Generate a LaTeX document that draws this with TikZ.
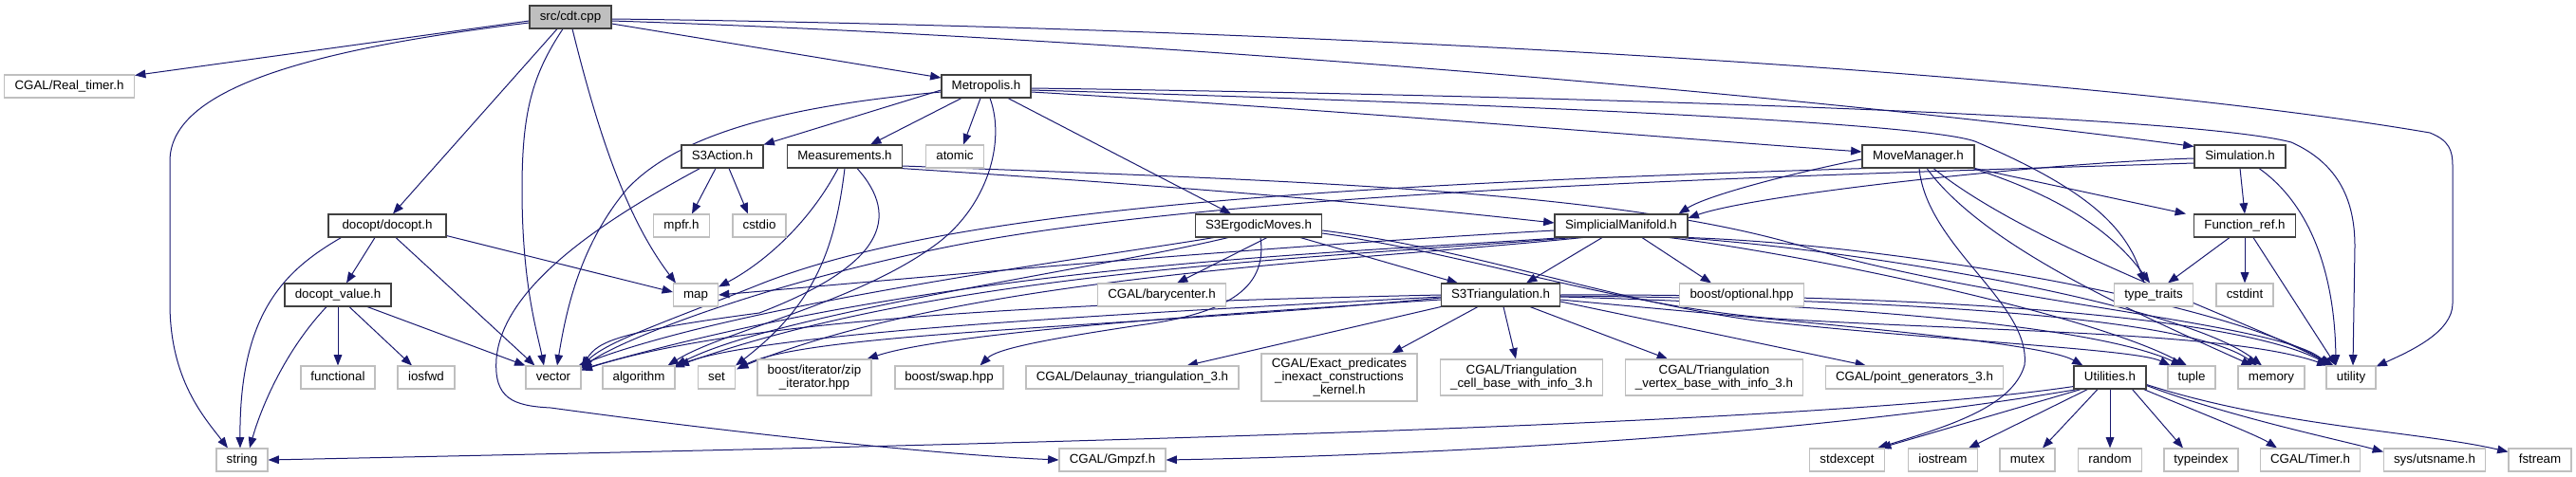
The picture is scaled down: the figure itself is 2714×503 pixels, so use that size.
\documentclass[tikz,border=0pt]{standalone}
\usepackage{fontspec}
\setmainfont{Liberation Sans}
\usetikzlibrary{arrows.meta,calc}
\definecolor{edgeblue}{HTML}{191970}
\definecolor{docborder}{HTML}{404040}
\definecolor{extborder}{HTML}{BFBFBF}
\newcommand{\fsz}{\fontsize{10pt}{10.6pt}\selectfont}
\pgfdeclarelayer{edgelayer}
\pgfsetlayers{edgelayer,main}
\tikzset{
  base/.style={fill=white, line width=0.8pt, font=\fsz, inner xsep=0pt, inner ysep=0pt, anchor=center},
  one/.style={text height=7.4pt, text depth=2.2pt, minimum height=18pt},
  doc/.style={base, one, draw=docborder},
  ext/.style={base, one, draw=extborder},
  extm/.style={base, draw=extborder, align=center},
  mw/.style={minimum width=#1*0.75pt},
  mh/.style={minimum height=#1*0.75pt},
  e/.style={draw=edgeblue, line width=0.75pt, -{Triangle[length=8.5pt,width=6.5pt]}},
}
\begin{document}
\begin{tikzpicture}[x=0.75pt, y=-0.75pt]
\useasboundingbox (0,0) rectangle (2714,503);
% row 0
\node[doc, fill=black!25, mw=86] (cdt) at (601,18) {src/cdt.cpp};
% row 1
\node[ext, mw=137] (realtimer) at (73,91) {CGAL/Real\_timer.h};
\node[doc, mw=94] (metro) at (1039,91) {Metropolis.h};
% row 2
\node[doc, mw=86] (s3action) at (761,165) {S3Action.h};
\node[doc, mw=121] (meas) at (890,165) {Measurements.h};
\node[ext, mw=61] (atomic) at (1006,165) {atomic};
\node[doc, mw=118] (moveman) at (2021,165) {MoveManager.h};
\node[doc, mw=96] (sim) at (2360,165) {Simulation.h};
% row 3
\node[doc, mw=124] (docopt) at (408,238) {docopt/docopt.h};
\node[ext, mw=59] (mpfr) at (718,238) {mpfr.h};
\node[ext, mw=56] (cstdio) at (800,238) {cstdio};
\node[doc, mw=133] (s3erg) at (1326,238) {S3ErgodicMoves.h};
\node[doc, mw=140] (simpman) at (1708,238) {SimplicialManifold.h};
\node[doc, mw=107] (funcref) at (2365,238) {Function\_ref.h};
% row 4
\node[ext, mw=47] (map) at (733,311) {map};
\node[doc, mw=112] (docval) at (356,311) {docopt\_value.h};
\node[ext, mw=135] (bary) at (1224,311) {CGAL/barycenter.h};
\node[doc, mw=125] (s3tri) at (1581,311) {S3Triangulation.h};
\node[ext, mw=131] (optional) at (1835,311) {boost/optional.hpp};
\node[ext, mw=83] (typetraits) at (2269,311) {type\_traits};
\node[ext, mw=60] (cstdint) at (2365,311) {cstdint};
% row 5
\node[ext, mw=78] (functional) at (356,398) {functional};
\node[ext, mw=60] (iosfwd) at (449,398) {iosfwd};
\node[ext, mw=58] (vector) at (583,398) {vector};
\node[ext, mw=76] (algorithm) at (673,398) {algorithm};
\node[ext, mw=39] (set) at (755,398) {set};
\node[extm, mw=120, mh=38] (zip) at (858,398) {boost/iterator/zip\\\_iterator.hpp};
\node[ext, mw=114] (swap) at (1000,398) {boost/swap.hpp};
\node[ext, mw=224] (delaunay) at (1193,398) {CGAL/Delaunay\_triangulation\_3.h};
\node[extm, mw=164, mh=50] (exact) at (1411,398) {CGAL/Exact\_predicates\\\_inexact\_constructions\\\_kernel.h};
\node[extm, mw=171, mh=38] (cellbase) at (1603,398) {CGAL/Triangulation\\\_cell\_base\_with\_info\_3.h};
\node[extm, mw=187, mh=38] (vertbase) at (1806,398) {CGAL/Triangulation\\\_vertex\_base\_with\_info\_3.h};
\node[ext, mw=187] (pointgen) at (2017,398) {CGAL/point\_generators\_3.h};
\node[doc, mw=76] (utilities) at (2223,398) {Utilities.h};
\node[ext, mw=50] (tuple) at (2309,398) {tuple};
\node[ext, mw=70] (memory) at (2393,398) {memory};
\node[ext, mw=52] (utility) at (2477,398) {utility};
% row 6
\node[ext, mw=54] (string) at (255,485) {string};
\node[ext, mw=112] (gmpzf) at (1172,485) {CGAL/Gmpzf.h};
\node[ext, mw=79] (stdexcept) at (1946,485) {stdexcept};
\node[ext, mw=73] (iostream) at (2047,485) {iostream};
\node[ext, mw=58] (mutex) at (2136,485) {mutex};
\node[ext, mw=67] (random) at (2223,485) {random};
\node[ext, mw=78] (typeindex) at (2319,485) {typeindex};
\node[ext, mw=105] (timer) at (2434,485) {CGAL/Timer.h};
\node[ext, mw=107] (utsname) at (2565,485) {sys/utsname.h};
\node[ext, mw=66] (fstream) at (2676,485) {fstream};

\begin{pgfonlayer}{edgelayer}
% ---- edges from cdt.cpp
\draw[e] ($(cdt.west)+(0,4)$) -- ($(realtimer.north east)+(0,1)$);
\draw[e] ($(cdt.west)+(0,6)$) .. controls (300,55) and (179,100) .. (179,170) -- (179,320) .. controls (179,400) and (215,440) .. ($(string.north)+(-15,0)$);
\draw[e] ($(cdt.south)+(-14,0)$) -- ($(docopt.north)+(6,0)$);
\draw[e] ($(cdt.south)+(-8,0)$) .. controls (560,80) and (550,120) .. (550,200) .. controls (550,300) and (566,350) .. ($(vector.north)+(-10,0)$);
\draw[e] ($(cdt.south)+(2,0)$) .. controls (630,140) and (660,230) .. ($(map.north west)+(3,0)$);
\draw[e] ($(cdt.east)+(0,7)$) -- ($(metro.west)+(0,-9)$);
\draw[e] ($(cdt.east)+(0,4)$) .. controls (1200,40) and (1900,100) .. ($(sim.north west)+(0,2)$);
\draw[e] ($(cdt.east)+(0,2)$) .. controls (1300,28) and (2150,70) .. (2560,140) .. controls (2580,148) and (2584,158) .. (2584,175) -- (2584,320) .. controls (2584,350) and (2540,370) .. ($(utility.north east)+(0,1)$);

% ---- Metropolis
\draw[e] ($(metro.west)+(0,4)$) -- ($(s3action.north east)+(0,0)$);
\draw[e] ($(metro.south)+(-26,0)$) -- ($(meas.north east)+(-34,0)$);
\draw[e] ($(metro.south)+(-6,0)$) -- ($(atomic.north)+(9,0)$);
\draw[e] ($(metro.south)+(23,0)$) -- ($(s3erg.north)+(-29,0)$);
\draw[e] ($(metro.west)+(0,6)$) .. controls (850,110) and (720,135) .. (660,200) .. controls (610,260) and (596,330) .. ($(vector.north)+(4,0)$);
\draw[e] ($(metro.east)+(0,6)$) .. controls (1400,115) and (1750,145) .. ($(moveman.west)+(0,-5)$);
\draw[e] ($(metro.east)+(0,2)$) .. controls (1600,100) and (2300,120) .. (2414,150) .. controls (2470,175) and (2481,220) .. (2481,260) -- ($(utility.north)+(2,0)$);
\draw[e] ($(metro.east)+(0,4)$) .. controls (1600,110) and (2040,130) .. (2083,150) .. controls (2200,200) and (2240,240) .. ($(typetraits.north)+(-10,0)$);
\draw[e] ($(metro.south)+(4,0)$) .. controls (1060,150) and (1040,220) .. (983,260) .. controls (900,320) and (760,350) .. ($(algorithm.north east)+(-8,0)$);

% ---- S3Action
\draw[e] ($(s3action.south)+(-7,0)$) -- ($(mpfr.north)+(11,0)$);
\draw[e] ($(s3action.south)+(7,0)$) -- ($(cstdio.north)+(-12,0)$);
\draw[e] ($(s3action.south west)+(20,0)$) .. controls (640,230) and (530,300) .. (523,378) .. controls (520,420) and (540,428) .. (580,430) .. controls (800,460) and (1000,480) .. (gmpzf.west);

% ---- Measurements
\draw[e] ($(meas.south)+(-7,0)$) .. controls (850,240) and (800,280) .. ($(map.north east)+(0,4)$);
\draw[e] ($(meas.south)+(0,0)$) .. controls (880,260) and (860,320) .. ($(set.north east)+(0,0)$);
\draw[e] ($(meas.south east)+(-2,0)$) .. controls (1300,200) and (1500,220) .. ($(simpman.west)+(0,-3)$);
\draw[e] ($(meas.east)+(0,10)$) .. controls (1350,190) and (1700,200) .. (1900,260) .. controls (2100,320) and (2400,340) .. ($(utility.north west)+(4,0)$);
\draw[e] ($(meas.south)+(13,0)$) .. controls (950,230) and (930,280) .. (800,330) .. controls (650,350) and (630,360) .. ($(vector.north east)+(0,2)$);

% ---- docopt
\draw[e] ($(docopt.south west)+(14,0)$) .. controls (300,285) and (252,330) .. ($(string.north)+(-2,0)$);
\draw[e] ($(docopt.south)+(-13,0)$) -- ($(docval.north)+(9,0)$);
\draw[e] ($(docopt.south)+(9,0)$) -- ($(vector.north west)+(10,0)$);
\draw[e] ($(docopt.south east)+(0,-2)$) -- ($(map.west)+(0,-3)$);

% ---- docopt_value
\draw[e] ($(docval.south)+(-12,0)$) .. controls (300,370) and (275,430) .. ($(string.north)+(8,0)$);
\draw[e] (docval.south) -- (functional.north);
\draw[e] ($(docval.south)+(12,0)$) -- ($(iosfwd.north)+(-15,0)$);
\draw[e] ($(docval.south)+(31,0)$) -- ($(vector.north west)+(0,0)$);

% ---- S3ErgodicMoves
\draw[e] ($(s3erg.south)+(9,0)$) -- ($(bary.north)+(16,0)$);
\draw[e] ($(s3erg.south east)+(-23,0)$) -- ($(s3tri.north west)+(18,0)$);
\draw[e] ($(s3erg.south west)+(20,0)$) .. controls (1150,272) and (780,320) .. ($(vector.north east)+(-3,0)$);
\draw[e] ($(s3erg.south west)+(35,0)$) .. controls (1150,285) and (820,330) .. ($(algorithm.north east)+(0,0)$);
\draw[e] ($(s3erg.south)+(2,0)$) .. controls (1335,300) and (1300,330) .. (1200,343) .. controls (1100,358) and (1050,368) .. ($(swap.north east)+(-25,0)$);
\draw[e] ($(s3erg.east)+(0,5)$) .. controls (1550,262) and (1700,318) .. (1850,338) .. controls (2050,360) and (2250,368) .. ($(tuple.north west)+(3,0)$);
\draw[e] ($(s3erg.east)+(0,8)$) .. controls (1550,268) and (1700,322) .. (1870,336) .. controls (2100,350) and (2350,350) .. ($(utility.north west)+(2,0)$);

% ---- SimplicialManifold
\draw[e] ($(simpman.south)+(-20,0)$) -- ($(s3tri.north)+(27,0)$);
\draw[e] ($(simpman.south)+(22,0)$) -- ($(optional.north)+(-32,0)$);
\draw[e] ($(simpman.west)+(0,5)$) .. controls (1300,262) and (1000,290) .. (map.east);
\draw[e] ($(simpman.south west)+(10,0)$) .. controls (1400,268) and (1000,278) .. ($(vector.north east)+(0,4)$);
\draw[e] ($(simpman.south west)+(20,0)$) .. controls (1400,272) and (1000,284) .. ($(algorithm.north east)+(3,0)$);
\draw[e] ($(simpman.south west)+(30,0)$) .. controls (1420,276) and (1020,290) .. ($(set.north east)+(2,3)$);
\draw[e] ($(simpman.south east)+(-20,0)$) .. controls (1900,268) and (2200,330) .. ($(tuple.north)+(-5,0)$);
\draw[e] ($(simpman.south east)+(-10,0)$) .. controls (1950,262) and (2300,320) .. ($(memory.north)+(-10,0)$);
\draw[e] ($(simpman.south east)+(0,0)$) .. controls (2000,258) and (2350,320) .. ($(utility.north west)+(6,0)$);

% ---- MoveManager
\draw[e] ($(moveman.west)+(0,3)$) .. controls (1900,180) and (1800,205) .. ($(simpman.north east)+(-10,0)$);
\draw[e] ($(moveman.south west)+(4,0)$) .. controls (1400,195) and (1000,220) .. (800,300) .. controls (700,340) and (640,360) .. ($(vector.north east)+(0,1)$);
\draw[e] ($(moveman.south east)+(0,0)$) -- ($(funcref.north west)+(-8,0)$);
\draw[e] ($(moveman.south east)+(-2,0)$) .. controls (2180,210) and (2230,250) .. ($(typetraits.north)+(-4,0)$);
\draw[e] ($(moveman.south)+(1,0)$) .. controls (2030,260) and (2140,320) .. (2133,385) .. controls (2120,430) and (2050,450) .. ($(stdexcept.north east)+(-8,0)$);
\draw[e] ($(moveman.south)+(9,0)$) .. controls (2090,260) and (2250,330) .. ($(memory.north)+(-20,0)$);
\draw[e] ($(moveman.south)+(16,0)$) .. controls (2140,260) and (2350,330) .. ($(utility.north west)+(8,0)$);

% ---- Simulation
\draw[e] ($(sim.west)+(0,2)$) .. controls (2150,172) and (1850,205) .. ($(simpman.east)+(0,-8)$);
\draw[e] ($(sim.west)+(0,7)$) .. controls (1900,185) and (1300,200) .. (1000,260) .. controls (800,300) and (650,360) .. ($(vector.north east)+(0,3)$);
\draw[e] ($(sim.south)+(0,0)$) -- ($(funcref.north)+(0,0)$);
\draw[e] ($(sim.south)+(20,0)$) .. controls (2440,220) and (2460,300) .. ($(utility.north)+(-16,0)$);

% ---- Function_ref
\draw[e] ($(funcref.south)+(-16,0)$) -- ($(typetraits.north)+(15,0)$);
\draw[e] (funcref.south) -- (cstdint.north);
\draw[e] ($(funcref.south)+(9,0)$) -- ($(utility.north)+(-16,0)$);

% ---- S3Triangulation
\draw[e] ($(s3tri.west)+(0,5)$) .. controls (1300,330) and (1000,350) .. ($(zip.north east)+(-5,0)$);
\draw[e] ($(s3tri.south west)+(0,0)$) -- ($(delaunay.north east)+(-55,0)$);
\draw[e] ($(s3tri.south)+(-24,0)$) -- ($(exact.north east)+(-27,0)$);
\draw[e] ($(s3tri.south)+(3,0)$) -- ($(cellbase.north)+(-6,0)$);
\draw[e] ($(s3tri.south)+(31,0)$) -- ($(vertbase.north)+(-49,0)$);
\draw[e] ($(s3tri.east)+(0,7)$) -- ($(pointgen.north west)+(43,0)$);
\draw[e] ($(s3tri.east)+(0,5)$) .. controls (1900,340) and (2150,360) .. ($(utilities.north west)+(10,0)$);
\draw[e] ($(s3tri.west)+(0,0)$) .. controls (1200,318) and (800,330) .. ($(vector.north east)+(0,5)$);
\draw[e] ($(s3tri.west)+(0,2)$) .. controls (1200,330) and (800,350) .. ($(algorithm.north east)+(-2,2)$);
\draw[e] ($(s3tri.west)+(0,3)$) .. controls (1200,345) and (850,350) .. ($(set.north east)+(1,4)$);
\draw[e] ($(s3tri.east)+(0,2)$) .. controls (1900,320) and (2200,340) .. ($(tuple.north)+(-10,0)$);
\draw[e] ($(s3tri.east)+(0,1)$) .. controls (1950,315) and (2300,330) .. ($(memory.north)+(-15,0)$);
\draw[e] ($(s3tri.east)+(0,0)$) .. controls (2000,310) and (2350,330) .. ($(utility.north west)+(5,0)$);

% ---- Utilities
\draw[e] ($(utilities.south west)+(0,-3)$) .. controls (1900,450) and (1000,470) .. (string.east);
\draw[e] ($(utilities.south west)+(4,0)$) .. controls (1900,460) and (1500,480) .. (gmpzf.east);
\draw[e] ($(utilities.south west)+(8,0)$) -- ($(stdexcept.north east)+(-5,0)$);
\draw[e] ($(utilities.south west)+(15,0)$) -- ($(iostream.north east)+(-10,0)$);
\draw[e] ($(utilities.south)+(-13,0)$) -- ($(mutex.north)+(16,0)$);
\draw[e] (utilities.south) -- (random.north);
\draw[e] ($(utilities.south east)+(-15,0)$) -- ($(typeindex.north)+(-19,0)$);
\draw[e] ($(utilities.south east)+(-3,0)$) .. controls (2330,440) and (2380,460) .. ($(timer.north west)+(18,0)$);
\draw[e] ($(utilities.south east)+(0,-4)$) .. controls (2350,440) and (2470,465) .. ($(utsname.north west)+(0,4)$);
\draw[e] ($(utilities.south east)+(0,-5)$) .. controls (2400,450) and (2550,455) .. ($(fstream.north west)+(0,4)$);
\end{pgfonlayer}
\end{tikzpicture}
\end{document}
